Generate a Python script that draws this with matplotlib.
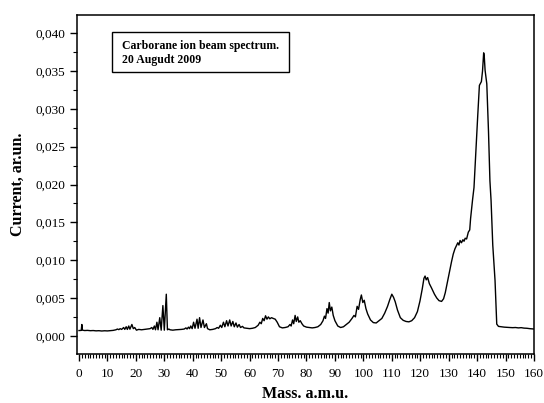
import matplotlib
matplotlib.use("Agg")
import matplotlib.pyplot as plt
from matplotlib.patches import Rectangle
from matplotlib.ticker import MultipleLocator, FuncFormatter

# spectrum: mass (a.m.u.) and current (ar.un.)
mass = [
    0.0, 0.8, 1.0, 1.2, 2, 3, 4, 5, 6, 7, 8, 9, 10, 11, 12, 13, 13.5, 14, 14.5, 15,
    15.7, 16.1, 16.6, 17.0, 17.5, 17.9, 18.6, 19.1, 19.6, 20.2, 21, 22, 23, 24, 25,
    25.6, 26.0, 26.5, 26.9, 27.4, 27.8, 28.4, 28.9, 29.5, 30.0, 30.7, 31.1, 31.6,
    32, 33, 34, 35, 36, 37, 37.6, 38.0, 38.5, 38.9, 39.3, 39.8, 40.3, 40.8, 41.5,
    41.9, 42.4, 42.9, 43.6, 44.1, 44.8, 45.2, 46, 47, 48, 48.6, 49.1, 49.7, 50.2,
    50.8, 51.3, 51.9, 52.4, 53.0, 53.5, 54.1, 54.6, 55.2, 55.7, 56.3, 56.8, 57.5,
    58, 59, 60, 61, 62, 63, 63.6, 64.1, 64.6, 65.1, 65.6, 66.1, 66.6, 67.1, 67.7,
    68.3, 69, 69.7, 70.5, 71.5, 72.5, 73.5, 74.2, 74.6, 75.1, 75.5, 76.0, 76.4,
    76.9, 77.3, 77.8, 78.4, 79, 80, 81, 82, 83, 84, 85, 85.8, 86.3, 86.7, 87.2,
    87.6, 88.0, 88.4, 88.9, 89.4, 90, 91, 92, 93, 94, 95, 96, 96.7, 97.2, 97.8,
    98.3, 98.9, 99.3, 99.8, 100.3, 100.9, 101.5, 102.5, 103.5, 104.5, 105.5, 106.5,
    107.5, 108.5, 109.3, 110.0, 110.6, 111.2, 112.0, 113.0, 114.0, 115.0, 116.0,
    117.0, 118.0, 119.0, 119.9, 120.7, 121.3, 121.7, 122.1, 122.6, 123.2, 124.0,
    125.0, 125.8, 126.6, 127.5, 128.2, 128.8, 129.5, 130.4, 131.0, 131.6, 132.2,
    132.8, 133.2, 133.6, 134.0, 134.5, 135.0, 135.4, 135.8, 136.3, 136.9, 137.4,
    137.7, 138.4, 138.9, 139.5, 140.2, 140.8, 141.5, 141.9, 142.3, 142.5, 142.8,
    143.4, 144.0, 144.5, 144.9, 145.5, 146.3, 146.9, 147.5, 148.5, 149.5, 150.5,
    151.5, 152.5, 153.5, 154.5, 155.5, 156.5, 157.5, 158.5, 159.5, 160,
]
current = [
    0.00070, 0.00072, 0.00150, 0.00075, 0.00070, 0.00072, 0.00068, 0.00070, 0.00066,
    0.00068, 0.00064, 0.00067, 0.00065, 0.00068, 0.00072, 0.00080, 0.00090, 0.00082,
    0.00095, 0.00085, 0.00110, 0.00085, 0.00120, 0.00085, 0.00130, 0.00088, 0.00150,
    0.00095, 0.00110, 0.00075, 0.00085, 0.00080, 0.00085, 0.00090, 0.00095, 0.00110,
    0.00085, 0.00130, 0.00080, 0.00180, 0.00080, 0.00240, 0.00075, 0.00400, 0.00075,
    0.00550, 0.00080, 0.00090, 0.00080, 0.00075, 0.00080, 0.00082, 0.00085, 0.00090,
    0.00105, 0.00090, 0.00115, 0.00095, 0.00130, 0.00095, 0.00180, 0.00100, 0.00220,
    0.00100, 0.00240, 0.00110, 0.00210, 0.00110, 0.00160, 0.00095, 0.00080, 0.00085,
    0.00095, 0.00110, 0.00100, 0.00140, 0.00110, 0.00180, 0.00120, 0.00200, 0.00130,
    0.00210, 0.00130, 0.00190, 0.00120, 0.00170, 0.00115, 0.00150, 0.00110, 0.00125,
    0.00105, 0.00100, 0.00095, 0.00100, 0.00110, 0.00140, 0.00180, 0.00160, 0.00230,
    0.00200, 0.00265, 0.00220, 0.00250, 0.00225, 0.00240, 0.00230, 0.00220, 0.00180,
    0.00120, 0.00105, 0.00110, 0.00120, 0.00150, 0.00130, 0.00210, 0.00160, 0.00270,
    0.00190, 0.00250, 0.00180, 0.00200, 0.00160, 0.00130, 0.00115, 0.00110, 0.00105,
    0.00110, 0.00120, 0.00150, 0.00200, 0.00260, 0.00230, 0.00360, 0.00300, 0.00440,
    0.00330, 0.00380, 0.00270, 0.00200, 0.00130, 0.00110, 0.00120, 0.00150, 0.00180,
    0.00230, 0.00270, 0.00250, 0.00390, 0.00350, 0.00480, 0.00540, 0.00440, 0.00470,
    0.00360, 0.00290, 0.00210, 0.00175, 0.00170, 0.00200, 0.00230, 0.00300, 0.00390,
    0.00480, 0.00550, 0.00510, 0.00450, 0.00340, 0.00240, 0.00205, 0.00190, 0.00185,
    0.00200, 0.00240, 0.00320, 0.00460, 0.00620, 0.00760, 0.00790, 0.00740, 0.00770,
    0.00690, 0.00630, 0.00550, 0.00500, 0.00465, 0.00455, 0.00490, 0.00570, 0.00700,
    0.00860, 0.00980, 0.01080, 0.01150, 0.01200, 0.01230, 0.01200, 0.01260, 0.01230,
    0.01270, 0.01250, 0.01290, 0.01280, 0.01370, 0.01400, 0.01550, 0.01800, 0.01960,
    0.02400, 0.02900, 0.03310, 0.03360, 0.03500, 0.03740, 0.03700, 0.03510, 0.03330,
    0.02700, 0.02050, 0.01790, 0.01200, 0.00730, 0.00155, 0.00125, 0.00120, 0.00115,
    0.00112, 0.00110, 0.00108, 0.00110, 0.00105, 0.00108, 0.00102, 0.00100, 0.00095,
    0.00092, 0.00090,
]

note = "Carborane ion beam spectrum.\n20 Augudt 2009"

plt.rcParams['font.family'] = ['Liberation Serif', 'DejaVu Serif']

fig = plt.figure(figsize=(5.44, 4.03), dpi=100)
ax = fig.add_axes([77 / 544, 49 / 403, 457 / 544, 339 / 403])

ax.plot(mass, current, color='black', lw=1.0)

ax.set_xlim(-0.7, 160)
ax.set_ylim(-0.0024, 0.0424)

ax.xaxis.set_major_locator(MultipleLocator(10))
ax.xaxis.set_minor_locator(MultipleLocator(1))
ax.yaxis.set_major_locator(MultipleLocator(0.005))
ax.yaxis.set_minor_locator(MultipleLocator(0.0025))
ax.yaxis.set_major_formatter(FuncFormatter(lambda v, p: f"{v:.3f}".replace('.', ',')))

ax.tick_params(which='major', direction='out', length=5, width=1, labelsize=9.5)
ax.tick_params(axis='x', which='major', pad=5)
ax.tick_params(which='minor', direction='out', length=3, width=0.8)
ax.tick_params(top=False, right=False)

for s in ax.spines.values():
    s.set_linewidth(1.1)

ax.set_xlabel("Mass. a.m.u.", fontsize=11.5, fontweight='bold', va='center')
ax.xaxis.set_label_coords(0.5, -40 / 339)
ax.set_ylabel("Current, ar.un.", fontsize=11.5, fontweight='bold', labelpad=7)

# note box (pixel positions from the top of the axes, axes bottom at 354 px)
ax.add_patch(Rectangle((35 / 457, (354 - 72) / 339), 177 / 457, 40 / 339,
                       transform=ax.transAxes, facecolor='white', edgecolor='black',
                       lw=1, zorder=3))
ax.text(45 / 457, (354 - 53) / 339, note, transform=ax.transAxes, fontsize=8.5,
        fontweight='bold', va='center', ha='left', linespacing=1.25, zorder=4)

fig.savefig("out.png", dpi=100)
